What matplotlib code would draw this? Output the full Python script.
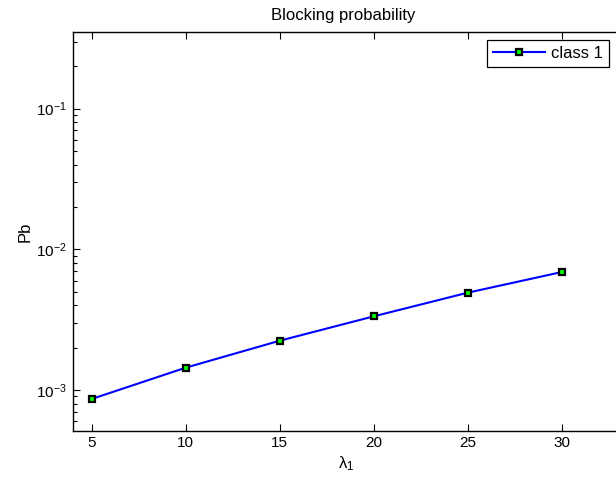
import matplotlib
matplotlib.use("Agg")
import matplotlib.pyplot as plt
from matplotlib.ticker import LogLocator, FixedLocator

plt.rcParams['font.family'] = ['Liberation Sans', 'DejaVu Sans']
plt.rcParams['mathtext.fontset'] = 'custom'
plt.rcParams['mathtext.rm'] = 'Liberation Sans'
plt.rcParams['mathtext.it'] = 'Liberation Sans:italic'

# data
lam = [5, 10, 15, 20, 25, 30]
pb = [8.63e-4, 1.441e-3, 2.241e-3, 3.34e-3, 4.92e-3, 6.90e-3]
xticks = [5, 10, 15, 20, 25, 30]

W, H = 616, 479
fig = plt.figure(figsize=(W / 100, H / 100), dpi=100)
# axes run past the right edge, as in the cropped original
left, right, top, bottom = 72.7, 655.9, 32.3, 430.7
ax = fig.add_axes([left / W, 1 - bottom / H, (right - left) / W, (bottom - top) / H])

ax.semilogy(lam, pb, '-s', color='#0000ff', lw=1.5,
            mfc='#00ff00', mec='k', ms=3.8, mew=1.6, label='class 1')

ax.set_xlim(4, 35)
ax.set_ylim(5.14e-4, 0.349)
ax.xaxis.set_major_locator(FixedLocator(xticks))
ax.yaxis.set_major_locator(LogLocator(base=10, numticks=10))
ax.yaxis.set_minor_locator(LogLocator(base=10, subs=range(2, 10), numticks=20))

ax.tick_params(which='both', direction='in', top=True, right=True, labelsize=11, width=0.8)
ax.tick_params(which='major', length=4.8, pad=4)
ax.tick_params(which='minor', length=3.2)
for s in ax.spines.values():
    s.set_linewidth(1.0)

# title centred on the visible part of the figure
ax.set_title('Blocking probability', fontsize=12, pad=9,
             x=(343.3 - left) / (right - left))
ax.set_xlabel(r'$\mathrm{\lambda_1}$', fontsize=12, labelpad=3,
              x=(346 - left) / (right - left))
ax.set_ylabel('Pb', fontsize=12, labelpad=3)

ax.legend(loc='upper right', bbox_to_anchor=(609 / W, 1 - 40 / H),
          bbox_transform=fig.transFigure, fontsize=12, fancybox=False,
          edgecolor='k', framealpha=1, handlelength=3.1, handletextpad=0.4,
          borderpad=0.35, borderaxespad=0)
ax.get_legend().get_frame().set_linewidth(0.9)

fig.savefig('out.png', dpi=100)
